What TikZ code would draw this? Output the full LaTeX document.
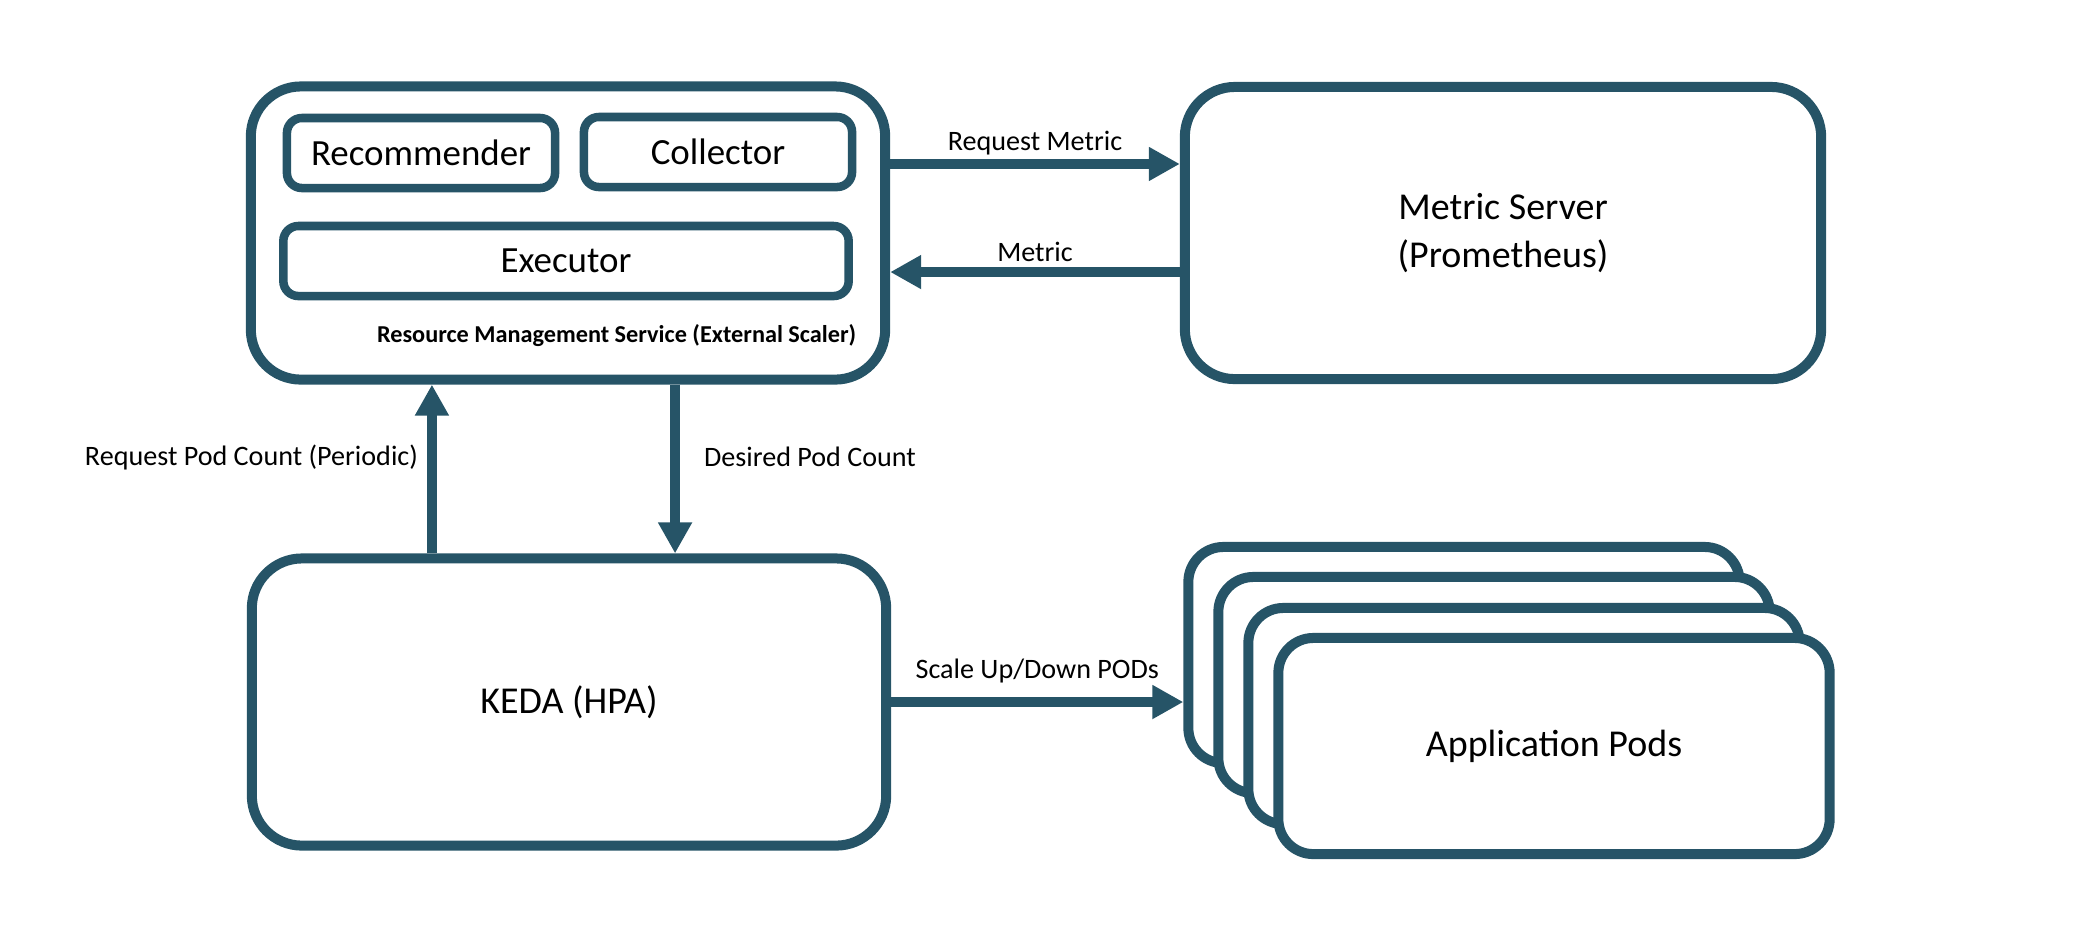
\documentclass[tikz,border=0pt]{standalone}
\usepackage{fontspec}
\setmainfont{Carlito}
\usetikzlibrary{arrows.meta}
\definecolor{boxblue}{HTML}{265467}

\begin{document}
\begin{tikzpicture}[x=0.01cm,y=-0.01cm,
    bigbox/.style={draw=boxblue, line width=0.1cm, rounded corners=0.5cm, fill=white, align=center, inner sep=0pt, font=\fontsize{10.8}{13.4}\selectfont},
    smallbox/.style={draw=boxblue, line width=0.085cm, rounded corners=0.15cm, inner sep=0pt, font=\fontsize{10.5}{12}\selectfont},
    podbox/.style={bigbox, rounded corners=0.35cm, minimum width=5.51cm, minimum height=2.16cm},
    arr/.style={draw=boxblue, line width=0.1cm, -{Triangle[length=0.31cm,width=0.32cm]}},
    lbl/.style={inner sep=0pt, font=\fontsize{8}{10}\selectfont}]
        \useasboundingbox (0,0) rectangle (2082,950);

        \node[bigbox, minimum width=6.34cm, minimum height=2.93cm] (rms) at (568,233) {};
        \node[smallbox, minimum width=2.68cm, minimum height=0.70cm] (rec) at (421,153) {Recommender};
        \node[smallbox, minimum width=2.68cm, minimum height=0.70cm] (col) at (718,152) {Collector};
        \node[smallbox, minimum width=5.65cm, minimum height=0.70cm] (exe) at (566,261) {Executor};
        \node[anchor=east, inner sep=0pt, font=\bfseries\fontsize{6.9}{8}\selectfont] (rmsname) at (857,336) {Resource Management Service (External Scaler)};

        \node[bigbox, minimum width=6.36cm, minimum height=2.92cm] (ms) at (1503,233) {Metric Server\\(Prometheus)};
        \node[bigbox, minimum width=6.34cm, minimum height=2.87cm] (keda) at (569,702) {KEDA (HPA)};

        \node[podbox] (pod1) at (1464,655) {};
        \node[podbox] (pod2) at (1494,685) {};
        \node[podbox] (pod3) at (1524,716) {};
        \node[podbox] (pod4) at (1554,746) {Application Pods};

            \draw[arr] ([yshift=0.69cm]rms.east) -- ([yshift=0.69cm]rms.east -| ms.west) node[lbl, midway, yshift=0.21cm] (reqm) {Request Metric};
            \draw[arr] ([yshift=-0.39cm]rms.east -| ms.west) -- ([yshift=-0.39cm]rms.east) node[lbl, midway, yshift=0.2cm] (met) {Metric};
            \draw[arr] ([xshift=-1.37cm]keda.north) -- ([xshift=-1.37cm]keda.north |- rms.south) node[lbl, pos=0.57, left=0.09cm] (reqpc) {Request Pod Count (Periodic)};
            \draw[arr] ([xshift=1.06cm]keda.north |- rms.south) -- ([xshift=1.06cm]keda.north) node[lbl, pos=0.43, right=0.24cm] (despc) {Desired Pod Count};
            \draw[arr] (keda.east) -- (keda.east -| pod1.west) node[lbl, midway, yshift=0.31cm] (scale) {Scale Up/Down PODs};

    \end{tikzpicture}
\end{document}
